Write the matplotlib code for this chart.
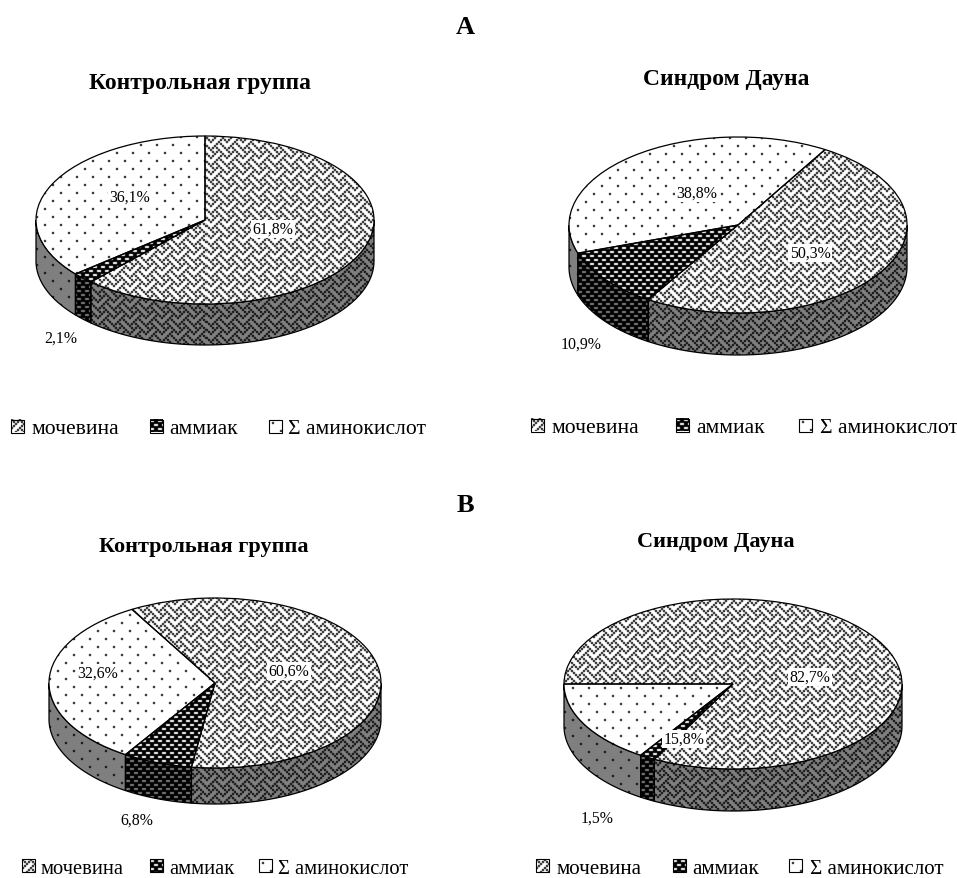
import numpy as np
import matplotlib
matplotlib.use("Agg")
from matplotlib import pyplot as plt
from matplotlib.patches import Polygon, Rectangle

W, H = 957, 879

panel_letters = ["A", "B"]
pie_titles = ["Контрольная группа", "Синдром Дауна", "Контрольная группа", "Синдром Дауна"]
series_names = ["мочевина", "аммиак", "Σ аминокислот"]

# percentages in drawing order: urea, ammonia, amino acids
control_a = [61.8, 2.1, 36.1]
down_a = [50.3, 10.9, 38.8]
control_b = [60.6, 6.8, 32.6]
down_b = [82.7, 1.5, 15.8]
all_values = [control_a, down_a, control_b, down_b]

# layout in pixels: centre x, centre y, rx, ry, depth, first slice angle (clockwise from top)
pie_geom = [
    (205, 221, 169, 84, 41, 0),
    (738, 226, 169, 88, 42, 31),
    (215, 684, 166, 85, 36, -30),
    (733, 685, 169, 85, 42, -90),
]
title_pos = [(200, 84), (726, 80), (204, 547), (716, 542)]
title_size = [16.9, 16.9, 16.0, 16.0]
label_pos = [
    [(273, 230), (61, 339), (130, 198)],
    [(810, 254), (581, 345), (697, 194)],
    [(289, 672), (137, 821), (98, 674)],
    [(810, 678), (597, 819), (684, 740)],
]
# centre y, font size, (swatch x, text x) per series
legend_rows = [
    (428, 15.6, [(11, 31), (150, 169), (269, 288)]),
    (427, 15.6, [(531, 551), (676, 696), (799, 820)]),
    (868, 14.8, [(22, 41), (150, 169), (259, 278)]),
    (868, 15.1, [(536, 557), (673, 692), (789, 810)]),
]

WEAVE = [0x88, 0x54, 0x22, 0x45, 0x88, 0x14, 0x22, 0x51]
BLACK = (0.0, 0.0, 0.0)
WHITE = (1.0, 1.0, 1.0)
GRAY = (0.5, 0.5, 0.5)


def soften(t):
    # the scan is blurred a little, so ink never reaches full black or white
    out = t * 0.5
    for ax_i in (0, 1):
        out = out + 0.125 * (np.roll(t, 1, ax_i) + np.roll(t, -1, ax_i))
    return out


def weave_tile():
    bits = np.array([[(b >> (7 - i)) & 1 for i in range(8)] for b in WEAVE], dtype=float)
    return soften(np.kron(bits, np.ones((2, 2))))


def spots_tile():
    # black ground, staggered light spots
    t = np.ones((8, 8))
    t[1:3, 0:4] = 0
    t[5:7, 4:8] = 0
    return soften(t)


def dots_tile():
    t = np.zeros((16, 16))
    t[3:5, 3:5] = 1
    t[11:13, 11:13] = 1
    return soften(t)


TILES = [weave_tile(), spots_tile(), dots_tile()]


def texture(kind, w, h, side=False):
    tile = TILES[kind]
    rows = int(h // tile.shape[0]) + 1
    cols = int(w // tile.shape[1]) + 1
    ink = np.tile(tile, (rows, cols))[:int(h), :int(w), None]
    paper = np.array(GRAY if side else WHITE)
    return ink * np.array(BLACK) + (1 - ink) * paper


def draw_side(ax, a0, a1, kind, d, extent, size):
    # only the front half of the rim can be seen (90..270 clockwise from top)
    for shift in (-360, 0, 360):
        lo = max(a0 + shift, 90)
        hi = min(a1 + shift, 270)
        if hi <= lo:
            continue
        t = np.radians(np.linspace(lo, hi, 80))
        xs, ys = np.sin(t), np.cos(t)
        pts = np.r_[np.c_[xs, ys], np.c_[xs, ys - d][::-1]]
        poly = Polygon(pts, closed=True, facecolor="none", edgecolor="black", linewidth=0.9, zorder=2)
        ax.add_patch(poly)
        im = ax.imshow(texture(kind, *size, side=True), extent=extent, aspect="auto",
                       interpolation="nearest", zorder=1)
        im.set_clip_path(poly)


def draw_pie(fig, values, geom):
    cx, cy, rx, ry, depth, start = geom
    pad = 3
    left, top = cx - rx - pad, cy - ry - pad
    w, h = 2 * (rx + pad), 2 * (ry + pad) + depth
    ax = fig.add_axes([left / W, 1 - (top + h) / H, w / W, h / H])
    wedges, _ = ax.pie(values, startangle=90 - start, counterclock=False, radius=1,
                       colors=["none"] * len(values),
                       wedgeprops=dict(edgecolor="black", linewidth=0.9, zorder=3))
    ax.set_aspect("auto")
    xlim = (-(rx + pad) / rx, (rx + pad) / rx)
    ylim = (-(ry + pad + depth) / ry, (ry + pad) / ry)
    extent = (xlim[0], xlim[1], ylim[0], ylim[1])
    d = depth / ry

    # rims first, then the textured top faces
    angle = start
    for kind, v in enumerate(values):
        sweep = v / sum(values) * 360
        draw_side(ax, angle, angle + sweep, kind, d, extent, (w, h))
        angle += sweep
    for kind, wedge in enumerate(wedges):
        im = ax.imshow(texture(kind, w, h), extent=extent, aspect="auto",
                       interpolation="nearest", zorder=2.5)
        im.set_clip_path(wedge)
    ax.set_xlim(*xlim)
    ax.set_ylim(*ylim)
    ax.axis("off")


plt.rcParams["font.family"] = ["Liberation Serif", "DejaVu Serif"]
fig = plt.figure(figsize=(W / 100, H / 100), dpi=100, facecolor="white")

for values, geom in zip(all_values, pie_geom):
    draw_pie(fig, values, geom)

# overlay in pixel coordinates for the text and legends
top = fig.add_axes([0, 0, 1, 1], zorder=10)
top.patch.set_alpha(0)

for letter, y in zip(panel_letters, (28, 506)):
    top.text(465, y, letter, fontsize=19, fontweight="bold", ha="center", va="center")
for name, (x, y), size in zip(pie_titles, title_pos, title_size):
    top.text(x, y, name, fontsize=size, fontweight="bold", ha="center", va="center")

for values, positions in zip(all_values, label_pos):
    for v, (x, y) in zip(values, positions):
        label = f"{v:.1f}%".replace(".", ",")
        top.text(x, y, label, fontsize=11.4, ha="center", va="center",
                 bbox=dict(facecolor="white", edgecolor="none", pad=1.0))

for y, size, row in legend_rows:
    for kind, (x_box, x_text) in enumerate(row):
        top.imshow(texture(kind, 13, 13), extent=(x_box, x_box + 13, y + 5.5, y - 7.5),
                   aspect="auto", interpolation="nearest", zorder=1)
        top.add_patch(Rectangle((x_box, y - 7.5), 13, 13, facecolor="none", edgecolor="black",
                                linewidth=0.8, zorder=2))
        top.text(x_text, y + 2, series_names[kind], fontsize=size, ha="left", va="center")

top.set_xlim(0, W)
top.set_ylim(H, 0)
top.axis("off")

fig.savefig("out.png", dpi=100)
